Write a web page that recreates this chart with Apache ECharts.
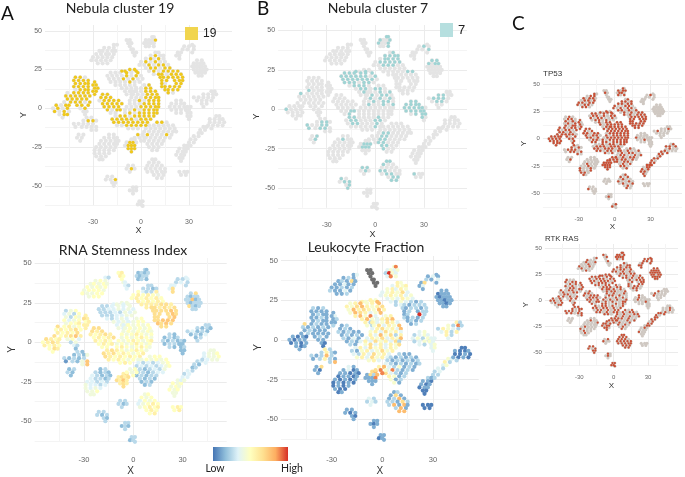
<!DOCTYPE html>
<html><head><meta charset="utf-8">
<style>html,body{margin:0;padding:0;background:#fff}#c{width:685px;height:477px}</style>
<script src="https://cdn.jsdelivr.net/npm/echarts@6/dist/echarts.min.js"></script>
</head><body><div id="c"></div>
<script>
// t-SNE map: one entry per island, each row is [y, x, x, ...]
const tsneRows = [
[[41,-17,-15],[39,-23,-20,-17],[37,-26,-24,-21,-18,-16],[35,-28,-25,-22,-20,-17],[33,-30,-27,-24,-21,-18],[31,-31,-28,-25,-22,-19],[29,-27,-24,-21]],
[[44,-9,-7],[42,-8,-6],[40,-7],[38,-6,-5],[36,-5,-3],[34,-4]],
[[46,7,8],[44,3,5,7,9],[42,2,4,6,8],[40,3,5,8]],
[[41,32],[40,27,30,33],[38,26,29,33],[36,23,25,32],[34,22,24],[32,24]],
[[31,35,38],[29,33,35,37,39],[27,32,34,36,38,40],[25,33,35,37,39,41],[23,34,36,38,40],[21,36,38]],
[[36,9,11],[34,6,9,12,14],[32,3,6,8,11,14],[30,0,3,6,9,12,15],[28,-1,2,5,8,11,14,17],[26,3,6,9,12,15,18],[24,5,8,11,14,17,20,23],[22,8,11,13,16,19,22,25],[20,12,14,17,20,23,26],[18,13,16,21,24,26],[16,13,15,22,25],[14,13,15,18,21,24],[12,15,17,20,23],[10,17,20]],
[[25,-7,-4],[24,-12,-10,-6,-3],[23,-19,-16,-13,-9,-6,-2],[21,-21,-18,-15,-12,-9,-6,-3,0],[19,-20,-17,-14,-11,-8,-5,-2,1],[17,-19,-16,-13,-10,-7,-4,-1],[15,-16,-13,-10,-7,-4],[13,-12,-9,-6,-3],[11,-10,-7,-4],[9,-9,-6]],
[[20,-41,-38,-35],[18,-42,-39,-36,-33],[16,-41,-38,-35,-33],[14,-42,-39,-36,-33],[12,-41,-38,-35,-33],[10,-46,-42,-39,-36,-33],[8,-47,-44,-41,-38,-35,-32],[6,-46,-43,-40,-37,-34],[4,-44,-41,-38,-35,-32],[2,-40,-37,-33],[0,-38,-35],[-2,-36,-34],[-4,-35]],
[[17,-29],[15,-28,-30],[13,-29,-27],[11,-30,-28],[9,-29]],
[[4,-48],[2,-53,-50,-47,-45],[0,-55,-52,-49,-46],[-2,-54,-51,-48,-45],[-4,-51,-48,-46],[-6,-49]],
[[9,-24,-21],[7,-25,-22,-19],[5,-26,-23,-20,-17,-14],[3,-24,-21,-18,-15,-12],[1,-23,-20,-17,-14],[-1,-21,-18,-15,-13],[-3,-19,-16]],
[[15,2,5],[13,-3,0,3,6],[11,-6,-3,0,3,6,9],[9,-5,-2,1,4,7,10],[7,-6,-3,0,3,6,9,11],[5,-7,-4,-1,2,5,8,11],[3,-7,-4,-1,2,5,8,11],[1,-9,-6,-3,0,3,6,9,11],[-1,-10,-7,-4,-1,2,5,8,10],[-3,-10,-7,-4,-1,2,5,8,10],[-5,-16,-13,-10,-7,-4,-1,2,5,8],[-7,-18,-15,-12,-9,-6,-3,0,3,6],[-9,-17,-14,-11,-8,-5,-2,1,4],[-11,-15,-12,-9,-6,-3,0,3],[-13,-8,-5,-2]],
[[5,22,25],[3,19,22,25,27],[1,18,21,24,27],[-1,19,22,25,28],[-3,22,25]],
[[1,29,31],[-1,28,30],[-3,29,31],[-5,29,31],[-7,30]],
[[11,44,46],[9,39,42,45,47],[7,33,36,39,42,45],[5,35,38,41,44],[3,38,41],[1,39]],
[[-6,-34,-31],[-8,-36,-33,-30,-28],[-10,-42,-39,-36,-33,-30],[-12,-41,-37,-34,-31,-28],[-14,-31,-28]],
[[-17,-39,-36],[-19,-40,-37],[-21,-38]],
[[-17,-20,-17],[-19,-23,-20,-17,-15],[-21,-25,-22,-19,-16,-14],[-23,-26,-23,-20,-17,-15],[-25,-28,-25,-22,-19,-16],[-27,-29,-26,-23,-20,-17],[-29,-29,-26,-23,-20],[-31,-28,-25,-22],[-33,-26,-24]],
[[-9,10,13,16],[-11,5,8,11,14,17,20],[-13,3,6,9,12,15,18,21],[-15,2,5,8,11,14,17,20,22],[-17,1,4,7,10,13,16,19],[-19,3,6,9,12,15,18],[-21,2,5,8,11,14],[-23,4,7,10,13],[-25,5,8,11],[-27,7,10]],
[[-20,-6,-4],[-22,-9,-7,-5,-3],[-24,-10,-8,-6,-4],[-26,-8,-6,-4],[-28,-6]],
[[-17,-2,1],[-19,-4,-1,2],[-21,0]],
[[-37,-8,-5],[-39,-9,-6,-4],[-41,-7]],
[[-33,7,9],[-35,5,8,11],[-37,4,7,10,13],[-39,3,6,9,12,15],[-41,4,7,10,13,15],[-43,8,11,14],[-45,10,13]],
[[-44,-21,-18],[-46,-22,-19,-16],[-48,-18,-16],[-50,-17]],
[[-51,-5,-3],[-53,-7,-5,-3],[-55,-5]],
[[-60,-1,1],[-62,-2,0],[-63,1]],
[[-41,24,27,29],[-43,25,28]],
[[-24,27,30],[-26,24,27,29],[-28,23,26,28],[-30,22,25,27],[-32,24,26],[-34,25]],
[[-12,39,41],[-14,37,40],[-16,36,38],[-18,33,36],[-20,31,34],[-22,30,33],[-24,29,31]],
[[-5,47,49],[-7,43,46,49,51],[-9,43,46,49,52],[-11,42,45,48,51],[-13,44]]
];
// Per-point scores (0 low .. 9 high), island by island, same row order; "-" = not available
const stemness = [
"32 454 45454 54545 45554 54455 455","56 65 5 43 32 3","21 1212 2122 121","3 223 232 332 37 7","27 2122 22812 21222 7212 22",
"22 2212 53226 565654 5656565 656565 6666776 6776767 777787 77787 7778 77888 8787 77",
"44 3434 223434 22334343 22232434 2223344 32343 4343 344 43",
"245 3425 4254 5345 4556 75645 565675 65657 56786 453 24 32 1","6 67 56 66 6","7 7656 5676 6565 576 5","77 767 65676 56567 6565 5656 55",
"45 3455 354545 454545 4545454 5456545 4545654 54565456 45456545 56545654 676545654 767565456 76565656 6565454 565",
"21 1212 2121 1221 21","21 11 12 11 1","22 2121 23121 1213 12 2","21 1214 21212 02148 48","12 21 1",
"12 2121 32121 32212 33232 43323 4343 445 44","455 454545 3232345 23232345 2212324 221233 12122 2121 121 12",
"67 6767 7686 676 7","45 545 5","22 212 2","45 545 3545 34565 45656 565 56","22 212 21 2","22 121 2","22 12 2","565 56",
"44 545 454 545 44 4","23 21 12 32 23 33 34","44 3445 3445 2344 3"
];
const leukocyte = [
"13 121 12161 11311 11212 21131 112","-- -- - -- -- -","48 3434 2943 384","1 131 213 161 13 1","11 0111 10111 11011 1101 11",
"54 3545 45354 345463 3454534 343543 3243212 2321222 212212 12122 1292 21212 1212 12",
"54 5457 457457 54675456 47565475 4765347 57483 5746 524 42",
"212 1111 1211 1121 1211 61211 212121 12111 21111 121 11 10 0","1 31 12 11 2","1 1010 1011 0101 101 1","12 121 21211 12121 2131 1213 21",
"45 3567 534653 463547 3564537 4536453 5374625 35463547 53645362 46353546 353645354 214534645 32536453 4536453 453",
"34 2343 3424 2342 32","33 43 34 34 3","52 4282 25432 3525 52 3","52 2521 21272 12521 27","16 10 1",
"31 1301 11010 01101 10101 01010 0101 100 01","211 212121 2121212 32121212 6324121 382121 63212 5412 412 41",
"67 1627 1118 111 1","57 684 8","32 232 3","12 161 1271 22162 27171 271 77","11 101 10 1","11 101 1","11 01 1","000 00",
"21 110 101 011 00 0","43 52 34 32 23 22 12","00 1001 0010 1010 2"
];
// Presence flags (1 = coloured point), same order; a missing flag is 0
const nebula19 = [
"","","00 0001","","",
"00 0100 01010 010100 0010110 011011 0101111 0110111 111111 11111 1011 11111 1111 10",
"11 1101 000101 00001010 00010100 0000100",
"110 1111 1111 1111 0111 01111 111111 11111 11101 111 01 00 0","1 11 11 11 1","0 1011 0101 1010 011 0","11 111 01111 11111 1111 1011 00",
"01 0011 000111 000111 0001111 0010111 0001111 00011111 00101111 01011111 011011111 111110111 11111111 0011111 000",
"","","","00 0110","",
"","110 000000 0000000 00000000 0100010","00 0110 0111 111 1","10 000","00 010","","00 001","","","","","",""
];
const nebula7 = [
"","","11 1001 1001 001","0 010 001","11 1011",
"01 1111 01111 011111 0011100 000000 0000011",
"00 1010 111111 11111101 11111110 1110110 01110 0110 010 00",
"000 0000 0000 0000 1000 10000","","0 0000 1000","00 000 00000 00000 0000 0011 01",
"00 0110 000101 010110 0101010 0010110 0100101 00000000 00000000 00000000 110000100 011000110 01100010 0000010 000",
"11 1111 1111 1111 01","10 01 11 10 0","00 1100 01110 0110","00 0110 10011 10110 00","01 01 0",
"00 0100","000 000000 0000000 01100000 0110000 110000 11000 1100 100 00",
"00 0111 0111 000 0","","11 010 0","11 100 0000 11000 01100 011 11","10 011 01 1","","","100 00","","",""
];
const tp53 = [
"10 011 10110 01101 11011 10110 110","00 10 0 00 00 0","10 1011 0110 101","0 010","",
"01 1101 11011 100110 1010110 110101 0101011 1010111 011111 11111 1111 11111 1111 11",
"10 1011 110101 01101011 10110010 0110100 01011 1011 011 10",
"010 0110 1010 0101 1011 11011 101101 11010 11110 101 11 01 1","1 01 10 01 1","1 1111 1111 1111 111 1","11 101 11011 10110 1101 0110 11",
"11 0111 011111 111111 1111111 0111111 1011111 01111111 10111111 11011111 001011011 011101110 11011101 1101101 101",
"00 0000 1000 0010 00","","00 0010 01000","10 1010 01110 01101 10","00 01 0",
"00 0000 00000 01000 00100 10010 1001 110 10","010 101001 0101100 01100101 1010110 011010 10110 0101 110 01",
"11 1111 1111 111 1","11 111 1","","01 101 0100 10010 01001 010 10","00 100","00 010 0","01 10 0","",
"11 011 101 110 10 1","10 11 01 11 10 11 11","01 1101 0100 1000 1"
];
const rtkRas = [
"01 100 01001 00100 10010 01000 010","10 01 0 01 00 0","11 1101 1111 101","1 111 111 011 11 1","11 1111 11111 11011 1111 11",
"10 1011 11011 101101 1101010 011011 1010101 1101011 010111 01011 1011 10110 0110 01",
"11 1101 111011 10111011 11011101 1011101 11011 0110 101 01",
"100 1011 0101 1010 0110 10110 010011 01100 10101 011 10 01 1","1 10 01 11 0","1 1010 1101 0101 011 0","01 110 10111 01110 1101 1011 10",
"10 1011 101010 011001 1010010 0110100 1001010 10101001 01010011 11001010 101101001 110110101 01101011 1101011 110",
"10 0100 0100 0001 00","","00 1000 01000 1000","11 1011 11101 11011 01","",
"00 0100 00001 00000 01000 10000 0100 010 00","101 010110 1010011 10101001 0110100 100101 01001 1010 010 10",
"10 1101 1011 110 1","11 111 1","01 100 0","11 111 1110 11111 11111 111 11","11 101 11 1","10 010 0","11 11 1","",
"00 010 000 100 00 0","11 10 11 11 01 11 11","00 0010 0010 0100 1"
];
const xTickLabels = [-30, 0, 30];
const yTickLabels = [-50, -25, 0, 25, 50];
const panelTitles = ["Nebula cluster 19", "Nebula cluster 7", "RNA Stemness Index", "Leukocyte Fraction", "TP53", "RTK RAS"];
const legendNames = ["19", "7"];

const strip = s => (s || "").replace(/ /g, "");
const xy = [], score = {stem: [], leuko: [], n19: [], n7: [], tp: [], rtk: []};
tsneRows.forEach((rows, c) => {
  const st = strip(stemness[c]), le = strip(leukocyte[c]), a = strip(nebula19[c]), b = strip(nebula7[c]), t = strip(tp53[c]), r = strip(rtkRas[c]);
  let i = 0;
  rows.forEach(row => row.slice(1).forEach(x => {
    xy.push([x, row[0]]);
    score.stem.push(st[i] || st[st.length - 1]);
    score.leuko.push(le[i] || le[le.length - 1]);
    score.n19.push(a[i] === "1"); score.n7.push(b[i] === "1");
    score.tp.push(t[i] === "1"); score.rtk.push(r[i] === "1");
    i++;
  }));
});
const pick = flags => xy.filter((p, i) => flags[i]);

const fontUI = "Liberation Sans", fontHead = "Lato";
// x0,y0 = pixel of the origin; sx,sy = pixels per unit; right, top = plot edges in pixels
const panels = [
  {x0:141,  sx:1.6,   y0:108.3,sy:1.55,  right:232,  top:25,  lab:7,  nm:9,  mX:13, gapX:21, gapY:13, size:4.2, hi:3.4},
  {x0:375.3,sx:1.62,  y0:109.3,sy:1.576, right:467,  top:25,  lab:7,  nm:9,  mX:14, gapX:21, gapY:14, size:4.2, hi:3.4},
  {x0:133.3,sx:1.644, y0:343.7,sy:1.604, right:226.7,top:258, lab:7.5,nm:10, mX:15, gapX:25, gapY:12, size:4.2, hi:4.2},
  {x0:382.3,sx:1.689, y0:343.3,sy:1.652, right:478.7,top:256, lab:7.5,nm:10, mX:17, gapX:27, gapY:14, size:4.2, hi:4.2},
  {x0:615.7,sx:1.213, y0:138.7,sy:1.093, right:684,  top:80,  lab:6,  nm:8,  mX:9,  gapX:15, gapY:9,  size:3.2, hi:2.4},
  {x0:613.7,sx:1.147, y0:300.7,sy:1.04,  right:678,  top:244, lab:6,  nm:8,  mX:9,  gapX:13, gapY:9,  size:3.1, hi:2.3}
];
const XMIN = -60, YMIN = -62.5;
const grid = [], xAxis = [], yAxis = [];
const major = "#ebebeb", minor = "#f4f4f4";
panels.forEach((p, idx) => {
  const left = p.x0 + p.sx * XMIN, bottom = p.y0 - p.sy * YMIN;
  grid.push({left, top: p.top, width: p.right - left, height: bottom - p.top});
  const common = {type: "value", gridIndex: idx, nameLocation: "middle", silent: true,
    axisLine: {show: false}, axisTick: {show: false}, minorTick: {show: false},
    nameTextStyle: {fontFamily: fontUI, fontSize: p.nm, color: "#333"}};
  xAxis.push(Object.assign({}, common, {position: "bottom", min: XMIN, max: (p.right - p.x0) / p.sx, interval: 15, name: "X", nameGap: p.gapX,
    splitLine: {show: true, showMinLine: false, showMaxLine: false, lineStyle: {width: 1, color: [minor, major]}},
    axisLabel: {interval: 0, margin: p.mX, hideOverlap: false, fontFamily: fontUI, fontSize: p.lab, color: "#666",
      formatter: v => xTickLabels.includes(v) ? String(v) : ""}}));
  yAxis.push(Object.assign({}, common, {position: "left", min: YMIN, max: (p.y0 - p.top) / p.sy, interval: 12.5, name: "Y", nameGap: p.gapY,
    splitLine: {show: true, showMaxLine: false, lineStyle: {width: 1, color: [minor, major]}},
    axisLabel: {interval: 0, margin: 3, hideOverlap: false, fontFamily: fontUI, fontSize: p.lab, color: "#666",
      formatter: v => yTickLabels.includes(v) ? String(v) : ""}}));
});

const scat = (name, idx, data, color, size) => ({
  type: "scatter", name, xAxisIndex: idx, yAxisIndex: idx, data, symbolSize: size, silent: true,
  animation: false, clip: false, itemStyle: {color, opacity: 1}});

const stemData = xy.map((p, i) => [p[0], p[1], +score.stem[i]]);
const leukoData = xy.map((p, i) => [p[0], p[1], score.leuko[i] === "-" ? null : +score.leuko[i]]).filter(d => d[2] !== null);
const leukoNA = xy.filter((p, i) => score.leuko[i] === "-");

const series = [
  scat("bgA", 0, xy, "#e4e4e4", panels[0].size), scat(legendNames[0], 0, pick(score.n19), "#efc81c", panels[0].hi),
  scat("bgB", 1, xy, "#e4e4e4", panels[1].size), scat(legendNames[1], 1, pick(score.n7), "#9fd4d4", panels[1].hi),
  scat("stem", 2, stemData, "#999", panels[2].size), scat("leuko", 3, leukoData, "#999", panels[3].size), scat("na", 3, leukoNA, "#6f6f6f", panels[3].size),
  scat("bgC", 4, xy, "#cfc8c2", panels[4].size), scat("TP53", 4, pick(score.tp), "#c94f35", panels[4].hi),
  scat("bgD", 5, xy, "#cfc8c2", panels[5].size), scat("RTK", 5, pick(score.rtk), "#c94f35", panels[5].hi)
];

const T = (text, x, y, size, align, font, color) => ({text, left: x, top: y, textAlign: align,
  textStyle: {fontFamily: font, fontSize: size, fontWeight: "normal", color}, padding: 0});
const title = [
  T(panelTitles[0], 120, 1, 14, "center", fontHead, "#222"),
  T(panelTitles[1], 378, 1, 14, "center", fontHead, "#222"),
  T(panelTitles[2], 123, 243, 14, "center", fontHead, "#222"),
  T(panelTitles[3], 366, 240, 14, "center", fontHead, "#222"),
  T(panelTitles[4], 543, 70, 8, "left", fontUI, "#333"),
  T(panelTitles[5], 545, 235, 7.8, "left", fontUI, "#333"),
  T("A", 1, 4, 19, "left", fontHead, "#111"),
  T("B", 257, -1, 19, "left", fontHead, "#111"),
  T("C", 512, 14, 19, "left", fontHead, "#111"),
  T("Low", 215, 463, 10.5, "center", fontHead, "#222"),
  T("High", 292, 463, 10.5, "center", fontHead, "#222")
];
const legend = [
  {data: [{name: legendNames[0], icon: "rect", itemStyle: {color: "#f1d54e"}}], left: 185, top: 27, itemWidth: 13, itemHeight: 13, itemGap: 0, padding: 0,
   textStyle: {fontFamily: fontUI, fontSize: 12, color: "#222", padding: [0, 0, 0, 0]}, selectedMode: false},
  {data: [{name: legendNames[1], icon: "rect", itemStyle: {color: "#b6dfdf"}}], left: 440, top: 23, itemWidth: 13, itemHeight: 14, itemGap: 0, padding: 0,
   textStyle: {fontFamily: fontUI, fontSize: 13, color: "#222"}, selectedMode: false}
];
const ramp = ["#4575b4", "#91bfdb", "#e0f3f8", "#ffffbf", "#fee090", "#fdae61", "#d73027"];
const chart = echarts.init(document.getElementById("c"), null, {renderer: "canvas"});
chart.setOption({
  animation: false, backgroundColor: "#fff", title, legend, grid, xAxis, yAxis, series,
  visualMap: [
    {type: "continuous", show: false, min: -1, max: 11, dimension: 2, seriesIndex: 4, inRange: {color: ramp}},
    {type: "continuous", show: false, min: -0.2, max: 9, dimension: 2, seriesIndex: 5, inRange: {color: ramp}}
  ],
  graphic: [{type: "rect", left: 213, top: 447, shape: {width: 75, height: 14}, silent: true,
    style: {fill: {type: "linear", x: 0, y: 0, x2: 1, y2: 0, colorStops: ramp.map((c, i) => ({offset: i / (ramp.length - 1), color: c}))}}}]
});
</script></body></html>
